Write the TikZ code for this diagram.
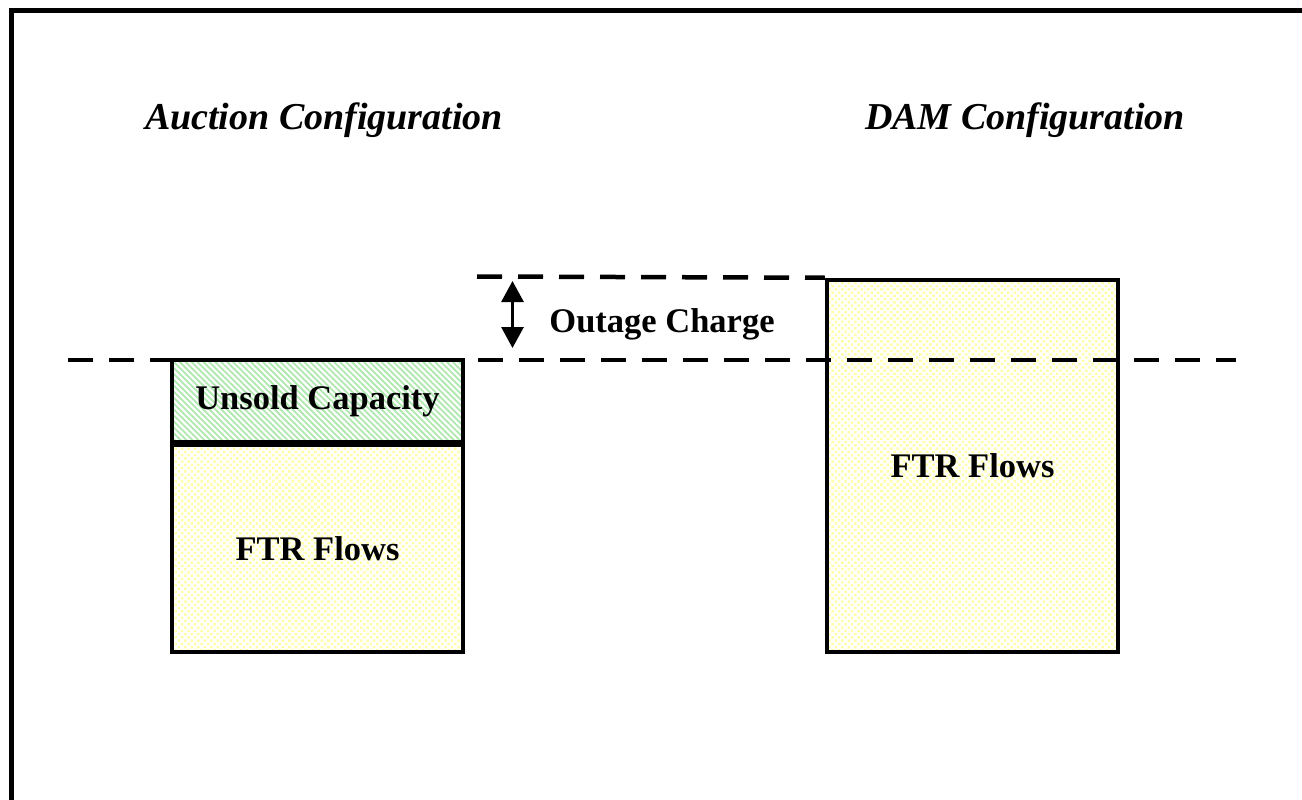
\documentclass[tikz,border=0pt]{standalone}
\usepackage{fontspec}
\setmainfont{Liberation Serif}
\usetikzlibrary{arrows.meta,patterns.meta}
\definecolor{hatchgreen}{RGB}{175,232,175}
\definecolor{dotyellow}{RGB}{255,255,170}
\tikzset{
  barbox/.style={draw=black, line width=4.5pt, rectangle, minimum width=291pt,
    inner sep=0pt, font=\fontsize{34.5}{40}\selectfont\bfseries},
  unsoldfill/.style={pattern={Lines[angle=-45,distance=4.2pt,line width=1.8pt]}, pattern color=hatchgreen},
  flowfill/.style={pattern={Dots[angle=45,distance=4.6pt,radius=1.8pt]}, pattern color=dotyellow},
  level/.style={line width=4.5pt, dash pattern=on 25pt off 16pt},
  title/.style={font=\fontsize{38}{44}\selectfont\bfseries\itshape, anchor=base},
  label/.style={font=\fontsize{34.5}{40}\selectfont\bfseries, anchor=base}
}
\begin{document}
\begin{tikzpicture}[x=1pt,y=-1pt]
\useasboundingbox (0,0) rectangle (1302,800);
\fill[white] (0,0) rectangle (1302,800);
% outer frame (left and top edges)
\draw[line width=5pt] (11.7,800) -- (11.7,10.8) -- (1302,10.8);

% titles
\node[title] (tauc) at (324,129) {Auction Configuration};
\node[title] (tdam) at (1025,129) {DAM Configuration};

% auction configuration bars
\node[barbox, unsoldfill, minimum height=82pt] (unsold) at (317.5,401) {Unsold Capacity};
\node[barbox, flowfill, minimum height=207pt, anchor=north] (ftra) at (unsold.south) {FTR Flows};

% DAM configuration bar
\node[barbox, flowfill, minimum height=372pt] (ftrb) at (972.5,466) {FTR Flows};

% capacity levels
\coordinate (lvlL) at (68,360);
\coordinate (lvlR) at (1236,360);
\draw[level] (lvlL) -- (lvlR);
\coordinate (topL) at (477,276.5);
\draw[level] (topL) -- (ftrb.north west);

% outage charge marker
\coordinate (arrT) at (512.5,281);
\coordinate (arrB) at (512.5,348);
\draw[line width=3pt, {Triangle[width=22pt,length=21pt]}-{Triangle[width=22pt,length=21pt]}] (arrT) -- (arrB);
\node[label] (outage) at (662,332) {Outage Charge};
\end{tikzpicture}
\end{document}
